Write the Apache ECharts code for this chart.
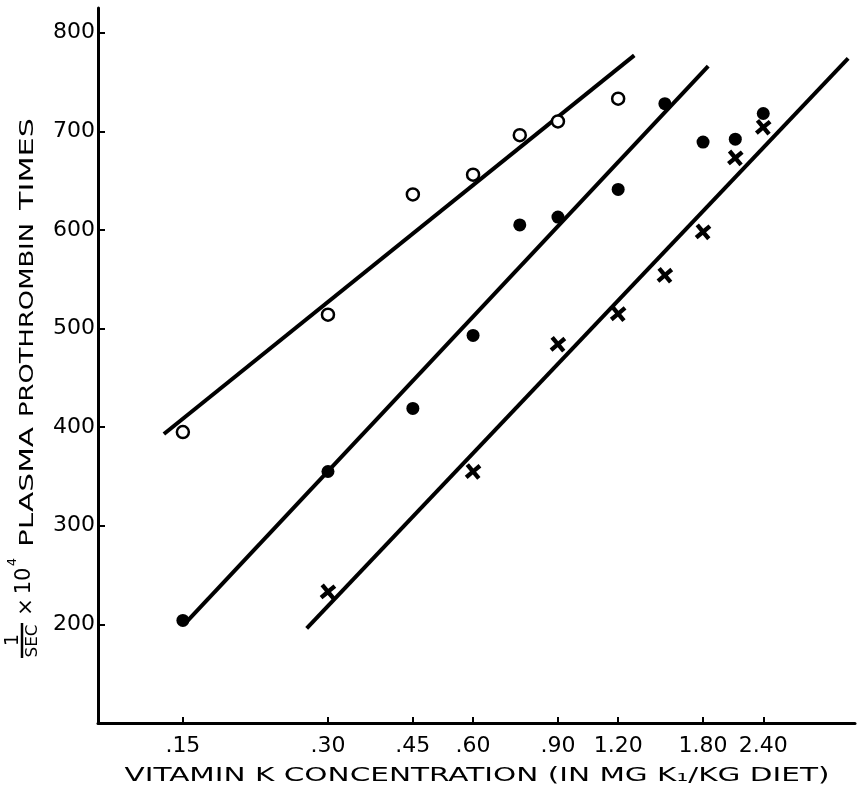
<!DOCTYPE html>
<html><head><meta charset="utf-8">
<script src="https://cdn.jsdelivr.net/npm/echarts@6/dist/echarts.min.js"></script>
<style>html,body{margin:0;padding:0;background:#fff}#c{width:857px;height:792px}</style>
</head><body><div id="c"></div>
<script>
// ---- data ----
const xTickValues = [0.15, 0.30, 0.45, 0.60, 0.90, 1.20, 1.80, 2.40];
const xTickLabels = ['.15', '.30', '.45', '.60', '.90', '1.20', '1.80', '2.40'];
const yTickValues = [200, 300, 400, 500, 600, 700, 800];
const xRange = [0.1, 3.72];
const yRange = [100, 825];

const openX = [0.15, 0.30, 0.45, 0.60, 0.75, 0.90, 1.20];
const openY = [395, 514, 636, 656, 696, 710, 733];
const filledX = [0.15, 0.30, 0.45, 0.60, 0.75, 0.90, 1.20, 1.50, 1.80, 2.10, 2.40];
const filledY = [204, 355, 419, 493, 605, 613, 641, 728, 689, 692, 718];
const crossX = [0.30, 0.60, 0.90, 1.20, 1.50, 1.80, 2.10, 2.40];
const crossY = [233, 355, 484, 515, 554, 598, 673, 704];

const openLineX = [0.137, 1.296];
const openLineY = [393, 777];
const filledLineX = [0.153, 1.845];
const filledLineY = [203, 766];
const crossLineX = [0.271, 3.60];
const crossLineY = [196, 774];

const xTitle = 'VITAMIN K CONCENTRATION (IN MG K\u2081/KG DIET)';
const yWords = ['TIMES', 'PROTHROMBIN', 'PLASMA'];

// ---- helpers ----
const FONT = '"DejaVu Sans", sans-serif';
const mctx = document.createElement('canvas').getContext('2d');
function measure(t, s) { mctx.font = s + 'px ' + FONT; return mctx.measureText(t).width; }
const L = v => Math.log10(v);
const pts = (xs, ys) => xs.map((x, i) => [L(x), ys[i]]);
const xTickLogs = xTickValues.map(L);
const centered = { align: 'center', verticalAlign: 'middle', textAlign: 'center', textVerticalAlign: 'middle' };
function vText(text, x, y, size, len) {
  const el = { type: 'text', x, y, rotation: Math.PI / 2,
    style: Object.assign({ text, fontSize: size, fontFamily: FONT, fill: '#000' }, centered) };
  if (len) el.scaleX = len / measure(text, size);
  return el;
}

// layout for title words (y extents on page)
const yWordLayout = [[118, 210], [223, 417], [427, 547]];
const graphics = [];
yWords.forEach((w, i) => {
  const [a, b] = yWordLayout[i];
  graphics.push(vText(w, 27.5, (a + b) / 2, 20, b - a));
});
graphics.push(vText('10', 25, 581, 21));
graphics.push(vText('4', 13, 562, 13));
graphics.push(vText('\u00d7', 27, 607, 21));
graphics.push(vText('1', 13, 640, 19));
graphics.push({ type: 'line', shape: { x1: 22, y1: 623, x2: 22, y2: 658 }, style: { stroke: '#000', lineWidth: 2.5 } });
graphics.push(vText('SEC', 33, 641, 15, 33));
graphics.push({ type: 'text', x: 477, y: 776, scaleX: 705 / measure(xTitle, 20),
  style: Object.assign({ text: xTitle, fontSize: 20, fontFamily: FONT, fill: '#000' }, centered) });

const lineStyle = { color: '#000', width: 4 };
const lineSeries = (xs, ys) => ({ type: 'line', data: pts(xs, ys), showSymbol: false, symbol: 'none',
  lineStyle, silent: true, z: 2 });

const chart = echarts.init(document.getElementById('c'), null, { renderer: 'canvas' });
chart.setOption({
  animation: false,
  backgroundColor: '#fff',
  grid: { left: 98, right: 2, top: 8, bottom: 69, containLabel: false },
  xAxis: {
    type: 'value', min: L(xRange[0]), max: L(xRange[1]),
    axisLine: { show: true, onZero: false, lineStyle: { color: '#000', width: 3 } },
    axisTick: { show: true, inside: true, length: 6, customValues: xTickLogs, lineStyle: { color: '#000', width: 2 } },
    axisLabel: { customValues: xTickLogs, margin: 12, fontSize: 22, fontFamily: FONT, color: '#000',
      formatter: v => { const i = xTickLogs.findIndex(t => Math.abs(t - v) < 1e-6); return i >= 0 ? xTickLabels[i] : ''; } },
    splitLine: { show: false }
  },
  yAxis: {
    type: 'value', min: yRange[0], max: yRange[1],
    axisLine: { show: true, onZero: false, lineStyle: { color: '#000', width: 3 } },
    axisTick: { show: true, inside: true, length: 7, customValues: yTickValues, lineStyle: { color: '#000', width: 2 } },
    axisLabel: { customValues: yTickValues, margin: 3, fontSize: 22, fontFamily: FONT, color: '#000' },
    splitLine: { show: false }
  },
  graphic: graphics,
  series: [
    lineSeries(openLineX, openLineY),
    lineSeries(filledLineX, filledLineY),
    lineSeries(crossLineX, crossLineY),
    { type: 'scatter', data: pts(openX, openY), symbol: 'circle', symbolSize: 12, z: 3,
      itemStyle: { color: '#fff', borderColor: '#000', borderWidth: 2.5, opacity: 1 } },
    { type: 'scatter', data: pts(filledX, filledY), symbol: 'circle', symbolSize: 13, z: 3,
      itemStyle: { color: '#000', opacity: 1 } },
    { type: 'scatter', data: pts(crossX, crossY), z: 3,
      symbol: 'path://M3.8,0H6.2V3.8H10V6.2H6.2V10H3.8V6.2H0V3.8H3.8Z', symbolSize: 18, symbolRotate: 40, symbolKeepAspect: true,
      itemStyle: { color: '#000', opacity: 1 } }
  ]
});
</script>
</body></html>
